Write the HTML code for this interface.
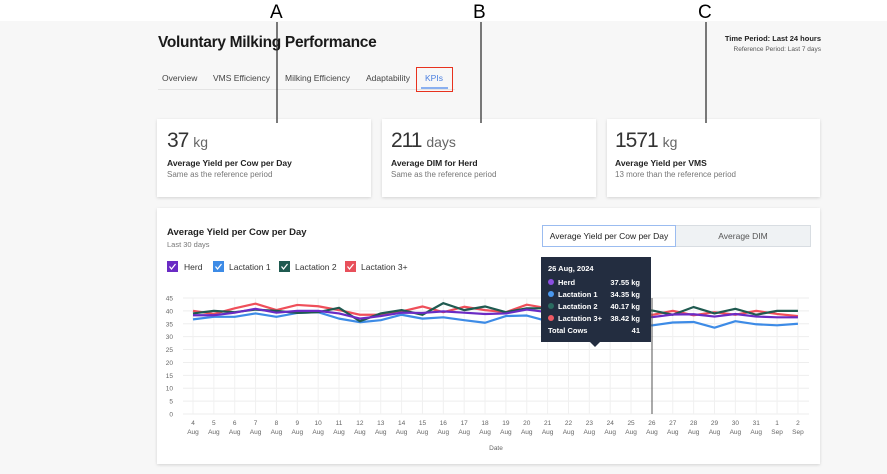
<!DOCTYPE html>
<html><head><meta charset="utf-8"><style>
body{margin:0;width:887px;height:474px;overflow:hidden;background:#f7f7f7;font-family:"Liberation Sans",sans-serif;position:relative}
.top{position:absolute;left:0;top:0;width:887px;height:21px;background:#fff}
.abs{position:absolute;white-space:nowrap}
.card{position:absolute;background:#fff;box-shadow:0 1px 3px rgba(0,0,0,.15)}
.big{font-size:21px;color:#333;letter-spacing:-1px}
.big span{font-size:14px;color:#666;letter-spacing:0}
.ct{font-size:8.5px;font-weight:bold;color:#222}
.cs{font-size:8px;color:#777}
.tab{font-size:8.5px;color:#444;top:73px}
</style></head><body>
<div class="top"></div>
<div class="abs" style="left:158px;top:34px;font-size:15.5px;font-weight:bold;color:#1a1a1a;letter-spacing:-0.3px">Voluntary Milking Performance</div>
<div class="abs" style="right:66px;top:34px;font-size:7.5px;font-weight:bold;color:#222">Time Period: Last 24 hours</div>
<div class="abs" style="right:66px;top:46px;font-size:6.5px;color:#555">Reference Period: Last 7 days</div>
<div class="abs tab" style="left:162px">Overview</div>
<div class="abs tab" style="left:213px">VMS Efficiency</div>
<div class="abs tab" style="left:285px">Milking Efficiency</div>
<div class="abs tab" style="left:366px">Adaptability</div>
<div class="abs tab" style="left:425px;color:#4a7fe0">KPIs</div>
<div class="abs" style="left:158px;top:89px;width:297px;height:1px;background:#e4e4e4"></div>
<div class="abs" style="left:421px;top:87px;width:27px;height:2px;background:#8ab0f0"></div>
<div class="abs" style="left:416px;top:67px;width:37px;height:25px;border:1.5px solid #e8321e;box-sizing:border-box"></div>

<div class="card" style="left:157px;top:119px;width:214px;height:78px"></div>
<div class="card" style="left:382px;top:119px;width:214px;height:78px"></div>
<div class="card" style="left:607px;top:119px;width:213px;height:78px"></div>
<div class="abs big" style="left:167px;top:129px">37 <span>kg</span></div>
<div class="abs ct" style="left:167px;top:158px">Average Yield per Cow per Day</div>
<div class="abs cs" style="left:167px;top:170px">Same as the reference period</div>
<div class="abs big" style="left:391px;top:129px">211 <span>days</span></div>
<div class="abs ct" style="left:391px;top:158px">Average DIM for Herd</div>
<div class="abs cs" style="left:391px;top:170px">Same as the reference period</div>
<div class="abs big" style="left:615px;top:129px">1571 <span>kg</span></div>
<div class="abs ct" style="left:615px;top:158px">Average Yield per VMS</div>
<div class="abs cs" style="left:615px;top:170px">13 more than the reference period</div>

<div class="card" style="left:157px;top:208px;width:663px;height:256px"></div>
<div class="abs" style="left:167px;top:227px;font-size:9.5px;font-weight:bold;color:#222">Average Yield per Cow per Day</div>
<div class="abs" style="left:167px;top:240px;font-size:7.5px;color:#777">Last 30 days</div>
<div class="abs" style="left:542px;top:225px;width:134px;height:22px;border:1px solid #9bbcf0;box-sizing:border-box;background:#fff;font-size:8.5px;color:#222;text-align:center;line-height:20px">Average Yield per Cow per Day</div>
<div class="abs" style="left:676px;top:225px;width:135px;height:22px;border:1px solid #d8dde2;border-left:none;box-sizing:border-box;background:#eff2f4;font-size:8.5px;color:#555;text-align:center;line-height:20px">Average DIM</div>

<svg class="abs" style="left:0;top:0" width="887" height="474" id="s">
<g font-family="Liberation Sans" font-size="20" fill="#000">
<text x="270" y="18" font-size="19">A</text><text x="473" y="18" font-size="19">B</text><text x="698" y="18" font-size="19">C</text>
</g>
<g stroke="#333" stroke-width="1.3"><line x1="277" y1="22" x2="277" y2="123"/><line x1="481" y1="22" x2="481" y2="123"/><line x1="706" y1="22" x2="706" y2="123"/></g>
<g font-size="8.5" font-family="Liberation Sans" fill="#333">
<rect x="167" y="261" width="11" height="11" fill="#6a2bc4"/><text x="184" y="270">Herd</text>
<rect x="213" y="261" width="11" height="11" fill="#3d8be6"/><text x="229" y="270">Lactation 1</text>
<rect x="279" y="261" width="11" height="11" fill="#1f5a50"/><text x="295" y="270">Lactation 2</text>
<rect x="345" y="261" width="11" height="11" fill="#e8505b"/><text x="361" y="270">Lactation 3+</text>
</g>
<g stroke="#fff" stroke-width="1.2" fill="none"><path d="M169.5 266.5l2 2.5 4-5"/><path d="M215.5 266.5l2 2.5 4-5"/><path d="M281.5 266.5l2 2.5 4-5"/><path d="M347.5 266.5l2 2.5 4-5"/></g>
<g id="grid"></g>
<g id="lines" fill="none" stroke-width="2.2" stroke-linejoin="round"></g>
<line x1="652" y1="298" x2="652" y2="414" stroke="#555" stroke-width="1"/>
<g id="tip">
<rect x="541" y="257" width="110" height="85" fill="#232d40"/>
<polygon points="590,342 600,342 595,347" fill="#232d40"/>
<g font-family="Liberation Sans" font-size="7.5" font-weight="bold" fill="#fff">
<text x="548" y="271">26 Aug, 2024</text>
<circle cx="551" cy="282" r="3" fill="#8b4fe0"/><text x="558" y="285">Herd</text><text x="640" y="285" text-anchor="end">37.55 kg</text>
<circle cx="551" cy="294" r="3" fill="#4a98ee"/><text x="558" y="297">Lactation 1</text><text x="640" y="297" text-anchor="end">34.35 kg</text>
<circle cx="551" cy="306" r="3" fill="#2a6b60"/><text x="558" y="309">Lactation 2</text><text x="640" y="309" text-anchor="end">40.17 kg</text>
<circle cx="551" cy="318" r="3" fill="#ef5a64"/><text x="558" y="321">Lactation 3+</text><text x="640" y="321" text-anchor="end">38.42 kg</text>
<text x="548" y="333">Total Cows</text><text x="640" y="333" text-anchor="end">41</text>
</g></g>
</svg>
<script>
var ns="http://www.w3.org/2000/svg";
function el(t,a,p){var e=document.createElementNS(ns,t);for(var k in a)e.setAttribute(k,a[k]);p.appendChild(e);return e;}
var g=document.getElementById('grid'),L=document.getElementById('lines'),tip=document.getElementById('tip');
function X(i){return 193+i*20.86;}function Y(v){return 414-v*2.578;}
for(var v=0;v<=45;v+=5){el('line',{x1:183,x2:809,y1:Y(v),y2:Y(v),stroke:'#eee','stroke-width':1},g);
var t=el('text',{x:173,y:Y(v)+2.5,'font-size':6.5,fill:'#666','text-anchor':'end','font-family':'Liberation Sans'},g);t.textContent=v;}
var days=[];for(var d=4;d<=31;d++)days.push([d,'Aug']);days.push([1,'Sep']);days.push([2,'Sep']);
days.forEach(function(d,i){el('line',{x1:X(i),x2:X(i),y1:298,y2:414,stroke:'#f0f0f0','stroke-width':1},g);
var t=el('text',{x:X(i),y:425,'font-size':6.5,fill:'#666','text-anchor':'middle','font-family':'Liberation Sans'},g);t.textContent=d[0];
t=el('text',{x:X(i),y:434,'font-size':6.5,fill:'#666','text-anchor':'middle','font-family':'Liberation Sans'},g);t.textContent=d[1];});
var t=el('text',{x:496,y:450,'font-size':6.5,fill:'#666','text-anchor':'middle','font-family':'Liberation Sans'},g);t.textContent='Date';
var S=[
['#3d8be6',[36.7,37.7,37.7,39,37.7,39.2,39.5,37,35.6,36.4,38.5,37,37.5,36.4,35.4,38,38.2,36,36.5,37,36,35,34.35,35.5,35.7,33.5,36,34.8,34.4,35]],
['#ef4f5a',[40,38.8,41,42.8,40.3,42.3,41.8,40.3,38.5,38.5,39.8,41.7,39.5,41.6,40.3,39.5,42.4,41,40,39,40,41,38.42,40,38.3,39.5,38.5,40,38.8,38]],
['#1f5a50',[39,40,39.5,40.5,40,39.2,39.5,41.2,36,39,40.3,38.5,43,40.3,41.7,39.5,41,41,40,40,41,40,40.17,38.5,41.5,39,40.8,38.5,40,40]],
['#6a2bc4',[38.3,38.3,39.3,40.8,39.3,40,40,39,37,38,39.3,39.2,39.8,39.3,38.8,39,40.5,39.5,39,38.5,39,38.5,37.55,38.6,38.7,37.8,38.8,37.8,37.5,37.5]]];
S.forEach(function(s){el('polyline',{points:s[1].map(function(v,i){return X(i)+','+Y(v);}).join(' '),stroke:s[0]},L);});
</script>
</body></html>
